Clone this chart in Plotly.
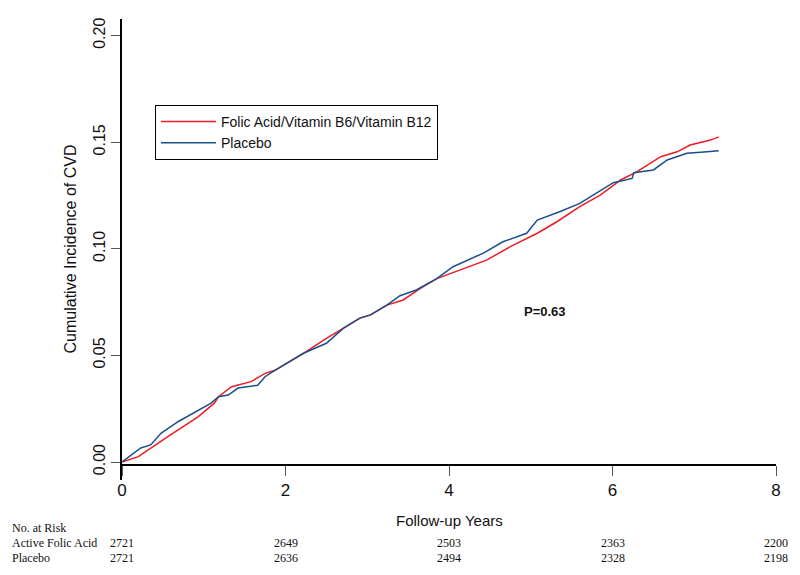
import plotly.graph_objects as go

# Data
folic_years = [0, 0.2, 0.56, 0.93, 1.13, 1.18, 1.34, 1.58, 1.75, 1.87, 2.22, 2.5, 2.71, 2.91,
               3.04, 3.24, 3.44, 3.65, 3.85, 4.14, 4.46, 4.75, 5.08, 5.32, 5.6, 5.85, 6.1,
               6.3, 6.59, 6.79, 6.95, 7.2, 7.3]
folic_inc = [0, 0.0025, 0.0119, 0.0212, 0.0276, 0.0306, 0.0353, 0.0377, 0.0416, 0.043, 0.051,
             0.058, 0.0628, 0.0675, 0.069, 0.0736, 0.076, 0.0815, 0.086, 0.09, 0.0947, 0.101,
             0.1073, 0.1127, 0.1198, 0.1252, 0.1323, 0.1362, 0.1432, 0.1455, 0.1487, 0.151, 0.1525]

placebo_years = [0, 0.11, 0.23, 0.35, 0.48, 0.69, 0.93, 1.09, 1.18, 1.30, 1.42, 1.66, 1.75,
                 1.87, 2.22, 2.5, 2.71, 2.91, 3.04, 3.24, 3.4, 3.6, 3.85, 4.05, 4.42, 4.66,
                 4.95, 5.08, 5.36, 5.6, 6.01, 6.24, 6.26, 6.5, 6.67, 6.91, 7.16, 7.3]
placebo_inc = [0, 0.0033, 0.0066, 0.008, 0.0136, 0.019, 0.0244, 0.0276, 0.0306, 0.0314, 0.0347,
               0.036, 0.04, 0.043, 0.051, 0.0557, 0.0628, 0.0675, 0.069, 0.0736, 0.078, 0.0807,
               0.086, 0.0916, 0.098, 0.1033, 0.1073, 0.1135, 0.1175, 0.1213, 0.131, 0.133,
               0.1357, 0.137, 0.1417, 0.1448, 0.1455, 0.146]

x_ticks = [0, 2, 4, 6, 8]
y_ticks = [0, 0.05, 0.10, 0.15, 0.20]
y_tick_labels = ["0.00", "0.05", "0.10", "0.15", "0.20"]

risk_times = [0, 2, 4, 6, 8]
risk_active = [2721, 2649, 2503, 2363, 2200]
risk_placebo = [2721, 2636, 2494, 2328, 2198]

SANS = "Liberation Sans, Arial, sans-serif"
SERIF = "Liberation Serif, Times New Roman, serif"

fig = go.Figure()
fig.add_trace(go.Scatter(x=folic_years, y=folic_inc, mode="lines",
                         name="Folic Acid/Vitamin B6/Vitamin B12",
                         line=dict(color="#EE1C25", width=1.5)))
fig.add_trace(go.Scatter(x=placebo_years, y=placebo_inc, mode="lines",
                         name="Placebo",
                         line=dict(color="#1B4F8A", width=1.5)))

PH = 461.0  # plot height px
PW = 654.0  # plot width px

annotations = [
    dict(text="Cumulative Incidence of CVD", xref="paper", yref="paper",
         x=-52 / PW, y=0.5, textangle=-90, showarrow=False,
         xanchor="center", yanchor="middle",
         font=dict(family=SANS, size=16, color="#111")),
    dict(text="Follow-up Years", xref="paper", yref="paper",
         x=0.5, y=-40 / PH, showarrow=False, xanchor="center", yanchor="middle",
         font=dict(family=SANS, size=15, color="#111")),
    dict(text="<b>P=0.63</b>", xref="x", yref="y", x=5.18, y=0.0708,
         showarrow=False, xanchor="center", yanchor="middle",
         font=dict(family=SANS, size=13, color="#111")),
    dict(text="No. at Risk", xref="paper", yref="paper",
         x=-112 / PW, y=-48 / PH, showarrow=False, xanchor="left", yanchor="middle",
         font=dict(family=SERIF, size=12, color="#111")),
    dict(text="Active Folic Acid", xref="paper", yref="paper",
         x=-112 / PW, y=-63 / PH, showarrow=False, xanchor="left", yanchor="middle",
         font=dict(family=SERIF, size=12, color="#111")),
    dict(text="Placebo", xref="paper", yref="paper",
         x=-112 / PW, y=-78 / PH, showarrow=False, xanchor="left", yanchor="middle",
         font=dict(family=SERIF, size=12, color="#111")),
]
for t, a, p in zip(risk_times, risk_active, risk_placebo):
    annotations.append(dict(text=str(a), xref="x", yref="paper", x=t, y=-63 / PH,
                            showarrow=False, xanchor="center", yanchor="middle",
                            font=dict(family=SERIF, size=12, color="#111")))
    annotations.append(dict(text=str(p), xref="x", yref="paper", x=t, y=-78 / PH,
                            showarrow=False, xanchor="center", yanchor="middle",
                            font=dict(family=SERIF, size=12, color="#111")))

# page body has an 8px default margin, so the figure is sized/offset to compensate
fig.update_layout(
    width=792, height=567,
    margin=dict(l=114, r=24, t=11, b=95),
    paper_bgcolor="white", plot_bgcolor="white",
    font=dict(family=SANS, color="#111"),
    showlegend=True,
    legend=dict(x=33 / PW, y=(480 - 105) / PH, xanchor="left", yanchor="top",
                bordercolor="black", borderwidth=1, bgcolor="white",
                font=dict(family=SANS, size=14, color="#111"),
                itemwidth=55, tracegroupgap=0),
    xaxis=dict(range=[0, 8], anchor="free", position=15 / PH,
               tickvals=x_ticks, ticktext=[str(v) for v in x_ticks],
               showline=True, linecolor="black", linewidth=1.5,
               ticks="outside", ticklen=10, tickcolor="#555", tickwidth=1,
               showgrid=False, zeroline=False,
               tickfont=dict(family=SANS, size=17, color="#111")),
    yaxis=dict(range=[-0.00844, 0.2078],
               tickvals=y_ticks, ticktext=y_tick_labels, tickangle=-90,
               showline=True, linecolor="black", linewidth=1.5,
               ticks="outside", ticklen=9, tickcolor="#555", tickwidth=1,
               showgrid=False, zeroline=False,
               tickfont=dict(family=SANS, size=16, color="#111")),
    annotations=annotations,
)

fig.write_html("out.html")
